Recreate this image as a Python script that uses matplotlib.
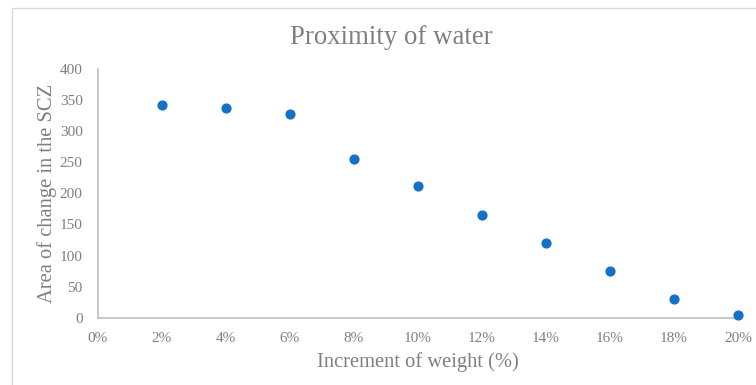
import matplotlib
matplotlib.use("Agg")
import matplotlib.pyplot as plt
from matplotlib.patches import Rectangle

# Weight increment (%) and area of change in the SCZ
increment = [2, 4, 6, 8, 10, 12, 14, 16, 18, 20]
area = [342, 338, 328, 256, 212, 165, 120, 75, 30, 4]
x_ticks = [0, 2, 4, 6, 8, 10, 12, 14, 16, 18, 20]
y_ticks = [0, 50, 100, 150, 200, 250, 300, 350, 400]

text_grey = "#7f7f7f"
axis_grey = "#bfbfbf"
dot_blue = "#1570C8"

plt.rcParams["font.family"] = ["Liberation Serif", "DejaVu Serif"]

fig = plt.figure(figsize=(7.56, 3.85), dpi=100)
ax = fig.add_axes([98 / 756, 1 - 317.7 / 385, 640 / 756, 248.7 / 385])

ax.scatter(increment, area, s=40, color=dot_blue, zorder=3, clip_on=False)

ax.set_xlim(0, 20)
ax.set_ylim(0, 400)
ax.set_xticks(x_ticks)
ax.set_xticklabels([f"{t}%" for t in x_ticks])
ax.set_yticks(y_ticks)
ax.tick_params(length=0, labelsize=11, colors=text_grey)
ax.tick_params(axis="y", pad=11)
ax.tick_params(axis="x", pad=10)
for side in ("top", "right"):
    ax.spines[side].set_visible(False)
for side in ("left", "bottom"):
    ax.spines[side].set_color(axis_grey)
    ax.spines[side].set_linewidth(1.2)

ax.set_xlabel("Increment of weight (%)", fontsize=14.8, color=text_grey)
ax.set_ylabel("Area of change in the SCZ", fontsize=14.8, color=text_grey)
ax.xaxis.set_label_coords(0.5, -(362 - 317.7) / 248.7)
ax.yaxis.set_label_coords(-(98 - 47) / 640, 0.5)
ax.xaxis.label.set_va("center")
ax.yaxis.label.set_va("center")
fig.text(391 / 756, 1 - 37 / 385, "Proximity of water", fontsize=19.3,
         color=text_grey, ha="center", va="center")

# Light frame around the chart area
fig.patches.append(Rectangle((12 / 756, -0.1), 1.2, 1.1 - 8 / 385,
                             transform=fig.transFigure, fill=False,
                             edgecolor="#d9d9d9", linewidth=1.0))

fig.savefig("out.png", dpi=100)
